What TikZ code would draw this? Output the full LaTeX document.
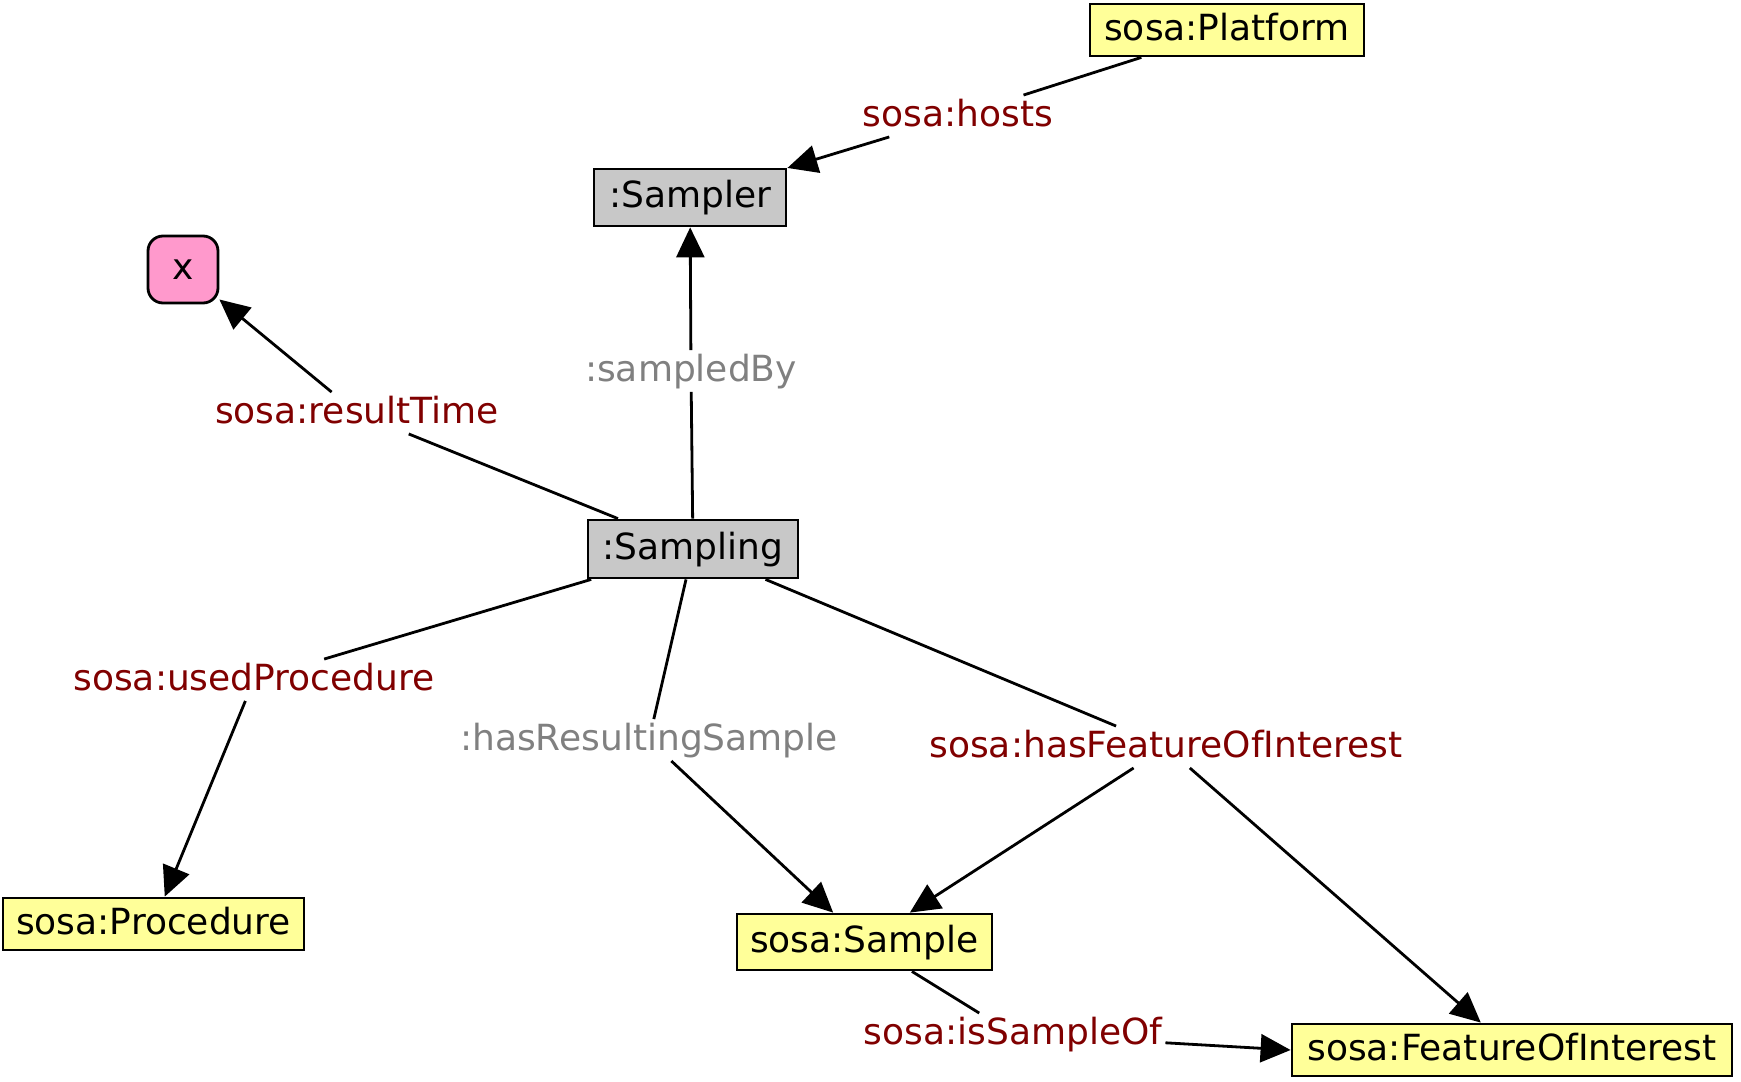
\documentclass[tikz,border=0pt]{standalone}
\usepackage{fontspec}
\setmainfont{DejaVu Sans}
\usetikzlibrary{arrows.meta}
\definecolor{nodeyellow}{HTML}{FFFF99}
\definecolor{nodegray}{HTML}{C8C8C8}
\definecolor{nodepink}{HTML}{FF99CC}
\definecolor{lblred}{HTML}{800000}
\definecolor{lblgray}{HTML}{808080}
\newcommand{\dgfont}{\fontsize{36bp}{43bp}\selectfont}
\begin{document}
\begin{tikzpicture}[x=1bp,y=-1bp,
  box/.style={draw=black, line width=2.8bp, inner sep=0pt, font=\dgfont,
    text height=28bp, text depth=7.5bp, anchor=center},
  classbox/.style={box, fill=nodeyellow},
  instbox/.style={box, fill=nodegray},
  litbox/.style={box, fill=nodepink, rounded corners=15bp},
  lbl/.style={font=\dgfont, inner sep=3bp, text height=28bp, text depth=7.5bp, anchor=center, text=lblred},
  glbl/.style={lbl, text=lblgray},
  conn/.style={draw=black, line width=2.8bp},
  arr/.style={conn, -{Triangle[length=30bp, width=28bp]}}
]
\useasboundingbox (0,0) rectangle (1741,1081);

% nodes
\node[classbox, minimum width=274bp, minimum height=52bp] (platform) at (1227,30) {sosa:Platform};
\node[instbox, minimum width=192bp, minimum height=57bp] (sampler) at (690,197.5) {:Sampler};
\node[litbox, minimum width=70bp, minimum height=67bp] (x) at (183,269.5) {x};
\node[instbox, minimum width=210bp, minimum height=58bp] (sampling) at (693,549) {:Sampling};
\node[classbox, minimum width=301bp, minimum height=52bp] (procedure) at (153.5,924) {sosa:Procedure};
\node[classbox, minimum width=255bp, minimum height=56bp] (sample) at (864.5,942) {sosa:Sample};
\node[classbox, minimum width=440bp, minimum height=52bp] (foi) at (1512,1050) {sosa:FeatureOfInterest};

% labels
\node[lbl] (hostsL) at (958,116) {sosa:hosts};
\node[glbl] (sampledL) at (691,371) {:sampledBy};
\node[lbl] (resultL) at (357,413) {sosa:resultTime};
\node[lbl] (usedL) at (254,680) {sosa:usedProcedure};
\node[glbl] (hrsL) at (649,740) {:hasResultingSample};
\node[lbl] (hfoiL) at (1166,747) {sosa:hasFeatureOfInterest};
\node[lbl] (isL) at (1013,1034) {sosa:isSampleOf};

% connectors
\draw[conn] (platform) -- (hostsL);
\draw[arr] (hostsL) -- (sampler);

\draw[conn] (sampling) -- (sampledL);
\draw[arr] (sampledL) -- (sampler);

\draw[conn] (sampling) -- (resultL);
\draw[arr] (resultL) -- (x);

\draw[conn] (sampling) -- (usedL);
\draw[arr] (usedL) -- (procedure);

\draw[conn] (sampling) -- (hrsL);
\draw[arr] (hrsL) -- (sample);

\draw[conn] (sampling) -- (hfoiL);
\draw[arr] (hfoiL) -- (sample);
\draw[arr] (hfoiL) -- (foi);

\draw[conn] (sample) -- (isL);
\draw[arr] (isL) -- (foi.west);
\end{tikzpicture}
\end{document}
